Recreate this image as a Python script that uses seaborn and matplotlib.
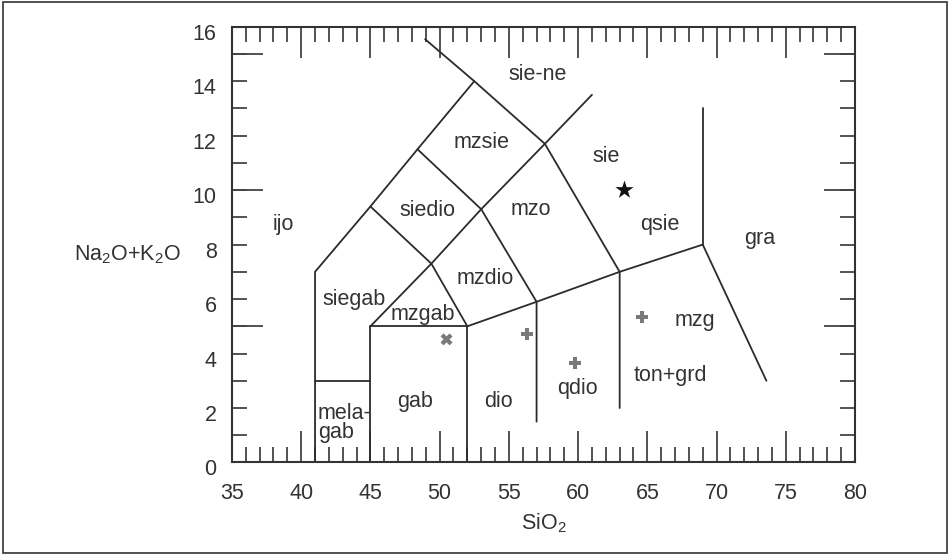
import numpy as np
import pandas as pd
import seaborn as sns
import matplotlib.pyplot as plt
from matplotlib.patches import Rectangle
from matplotlib.transforms import ScaledTranslation

# boundary polylines of the TAS (plutonic) field diagram, (SiO2, Na2O+K2O)
line_a = [(41, 0), (41, 7), (45, 9.4), (48.4, 11.5), (52.5, 14)]
line_b = [(48.95, 15.54), (52.5, 14), (57.6, 11.7), (63, 7), (63, 2)]
line_c = [(41, 3), (45, 3)]
line_d = [(45, 0), (45, 5), (52, 5), (52, 0)]
line_e = [(45, 5), (49.4, 7.3), (53, 9.3), (57.6, 11.7), (61, 13.5)]
line_f = [(45, 9.4), (49.4, 7.3), (52, 5), (57, 5.9), (63, 7), (69, 8), (73.6, 3)]
line_g = [(48.4, 11.5), (53, 9.3), (57, 5.9), (57, 1.5)]
line_h = [(69, 8), (69, 13)]

field_names = ["ijo", "sie-ne", "mzsie", "sie", "siedio", "mzo", "qsie", "gra",
               "mzdio", "siegab", "mzgab", "mzg", "ton+grd", "qdio", "gab", "dio"]
field_x = [38.7, 57.1, 53.0, 62.0, 49.1, 56.6, 65.9, 73.1,
           53.3, 43.8, 48.8, 68.45, 66.65, 59.95, 48.2, 54.25]
field_y = [8.72, 14.23, 11.74, 11.23, 9.25, 9.27, 8.72, 8.23,
           6.76, 5.97, 5.42, 5.23, 3.21, 2.72, 2.23, 2.23]

# samples
star_x, star_y = [63.35], [10.0]
cross_x, cross_y = [50.5], [4.52]
plus_x = [56.3, 59.8, 64.6]
plus_y = [4.72, 3.66, 5.35]

sns.set_style("ticks")
plt.rcParams["font.family"] = ["Liberation Sans", "DejaVu Sans"]
plt.rcParams["mathtext.default"] = "regular"

FS = 15.5
txt_col = "#333333"

fig = plt.figure(figsize=(9.53, 5.55), dpi=100)
ax = fig.add_axes([0.2434, 0.1667, 0.6538, 0.7852])

rows = []
for i, seg in enumerate([line_a, line_b, line_c, line_d, line_e, line_f, line_g, line_h]):
    for k, (x, y) in enumerate(seg):
        rows.append({"seg": i, "order": k, "x": x, "y": y})
lines = pd.DataFrame(rows)

sns.lineplot(data=lines, x="x", y="y", units="seg", estimator=None, sort=False,
             color="#2b2b2b", linewidth=1.3, ax=ax)

sns.scatterplot(x=star_x, y=star_y, marker="*", s=190, color="#111111",
                edgecolor="none", ax=ax)
sns.scatterplot(x=cross_x, y=cross_y, marker="X", s=75, color="#7a7a7a",
                edgecolor="none", ax=ax)
sns.scatterplot(x=plus_x, y=plus_y, marker="P", s=75, color="#7a7a7a",
                edgecolor="none", ax=ax)

for name, x, y in zip(field_names, field_x, field_y):
    ax.text(x, y, name, ha="center", va="center", fontsize=FS, color=txt_col)
ax.text(41.2, 1.45, "mela-\ngab", ha="left", va="center", fontsize=FS,
        color=txt_col, linespacing=0.9)

ax.set_xlim(35, 80)
ax.set_ylim(0, 16)
ax.set_xticks(range(35, 81, 5))
ax.set_xticks(range(35, 81), minor=True)
ax.set_yticks(range(0, 17))
ax.set_yticklabels([str(v) if v % 2 == 0 else "" for v in range(0, 17)])
ax.set_yticks([5, 10, 15], minor=True)
ax.yaxis.remove_overlapping_locs = False

tick_col = "#444444"
ax.tick_params(axis="x", which="major", direction="in", length=22, width=1.3,
               top=True, bottom=True, pad=15, labelsize=FS, color=tick_col,
               labelcolor=txt_col)
ax.tick_params(axis="x", which="minor", direction="in", length=11, width=1.3,
               top=True, bottom=True, color=tick_col)
ax.tick_params(axis="y", which="major", direction="in", length=11, width=1.3,
               left=True, right=True, pad=11, labelsize=FS, color=tick_col,
               labelcolor=txt_col)
ax.tick_params(axis="y", which="minor", direction="in", length=22, width=1.3,
               left=True, right=True, color=tick_col)

shift = ScaledTranslation(0, -0.05, fig.dpi_scale_trans)
for lab in ax.get_yticklabels():
    lab.set_transform(lab.get_transform() + shift)

for sp in ax.spines.values():
    sp.set_linewidth(1.5)
    sp.set_color(txt_col)

ax.set_xlabel("SiO$_2$", fontsize=FS, color=txt_col)
ax.xaxis.set_label_coords(0.5, -0.14)
ax.xaxis.label.set_va("center")
ax.set_ylabel("Na$_2$O+K$_2$O", fontsize=FS, color=txt_col, rotation=0,
              ha="right", va="center")
ax.yaxis.set_label_coords(-0.081, 0.477)

fig.patches.append(Rectangle((3 / 953, 2 / 555), 944 / 953, 551 / 555,
                             transform=fig.transFigure, fill=False,
                             linewidth=1.2, edgecolor=txt_col))

fig.savefig("out.png", dpi=100)
